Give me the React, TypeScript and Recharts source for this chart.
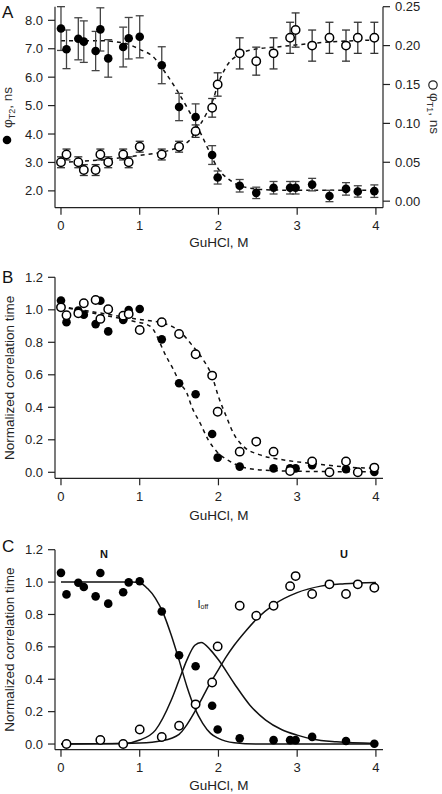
import { ComposedChart, Line, Scatter, ErrorBar, XAxis, YAxis } from "recharts";

const FONT = "'Liberation Sans', Arial, Helvetica, sans-serif";

// GuHCl concentrations (M) shared by every panel
const conc = [0, 0.07, 0.22, 0.29, 0.44, 0.5, 0.6, 0.79, 0.86, 1.0, 1.28, 1.5, 1.71, 1.92, 1.99, 2.27, 2.48, 2.7, 2.91, 2.98, 3.19, 3.41, 3.62, 3.77, 3.98];

// panel A
const phiT2 = [7.71, 6.98, 7.35, 7.25, 6.92, 7.68, 6.66, 7.06, 7.37, 7.42, 6.42, 4.95, 4.6, 3.26, 2.47, 2.18, 1.93, 2.11, 2.11, 2.11, 2.22, 1.82, 2.07, 1.98, 1.99];
const phiT2Err = [0.77, 0.68, 0.74, 0.73, 0.69, 0.76, 0.66, 0.7, 0.73, 0.74, 0.65, 0.48, 0.46, 0.33, 0.23, 0.22, 0.2, 0.22, 0.22, 0.22, 0.22, 0.2, 0.22, 0.2, 0.22];
const phiT1 = [0.05, 0.06, 0.05, 0.04, 0.04, 0.06, 0.05, 0.06, 0.05, 0.07, 0.06, 0.07, 0.09, 0.12, 0.15, 0.19, 0.18, 0.19, 0.21, 0.22, 0.2, 0.21, 0.2, 0.21, 0.21];
const phiT1Err = [0.007, 0.007, 0.007, 0.007, 0.007, 0.007, 0.007, 0.007, 0.007, 0.007, 0.007, 0.007, 0.008, 0.012, 0.015, 0.02, 0.018, 0.02, 0.02, 0.022, 0.02, 0.02, 0.02, 0.02, 0.02];

const fitT2X = [0, 0.5, 0.8, 1.0, 1.17, 1.34, 1.47, 1.64, 1.77, 1.89, 1.98, 2.15, 2.32, 2.6, 3.0, 4.0];
const fitT2Y = [7.28, 7.28, 7.2, 6.98, 6.72, 6.1, 5.55, 4.74, 4.05, 3.35, 2.85, 2.37, 2.14, 2.04, 2.02, 2.02];
const fitT1X = [0, 0.5, 1.0, 1.28, 1.5, 1.64, 1.72, 1.85, 1.93, 1.99, 2.1, 2.25, 2.4, 2.82, 3.46, 3.96];
const fitT1Y = [0.05, 0.053, 0.059, 0.063, 0.07, 0.079, 0.091, 0.113, 0.13, 0.149, 0.173, 0.188, 0.194, 0.199, 0.205, 0.207];

// panel B / C
const normT2 = [1.057, 0.924, 0.996, 0.97, 0.912, 1.056, 0.867, 0.937, 0.998, 1.005, 0.818, 0.548, 0.48, 0.236, 0.09, 0.035, null, 0.024, 0.024, 0.024, 0.044, null, 0.019, null, 0.002];
const normT1 = [1.015, 0.966, 0.978, 1.04, 1.06, 0.944, 1.003, 0.964, 0.974, 0.876, 0.923, 0.851, 0.726, 0.595, 0.373, 0.127, 0.189, 0.127, 0.008, null, 0.066, 0, 0.066, 0, 0.029];
const fracU = [null, 0, null, null, null, 0.025, null, 0, null, 0.09, 0.043, 0.113, 0.245, 0.38, 0.603, 0.854, 0.792, 0.854, 0.975, 1.037, 0.926, 0.986, 0.926, 0.986, 0.965];

const fitBT2X = [0, 0.5, 0.92, 1.13, 1.34, 1.43, 1.51, 1.6, 1.66, 1.77, 1.87, 1.98, 2.15, 2.36, 2.7, 3.2, 4.0];
const fitBT2Y = [1.02, 0.97, 0.93, 0.9, 0.71, 0.63, 0.55, 0.486, 0.404, 0.3, 0.2, 0.127, 0.066, 0.025, 0.01, 0.005, 0.003];
const fitBT1X = [0, 0.5, 1.0, 1.28, 1.51, 1.68, 1.81, 1.92, 2.0, 2.1, 2.19, 2.32, 2.53, 2.83, 3.25, 3.67, 4.0];
const fitBT1Y = [1.02, 0.98, 0.94, 0.92, 0.866, 0.773, 0.69, 0.59, 0.466, 0.343, 0.24, 0.158, 0.107, 0.076, 0.051, 0.031, 0.025];

const fitNX = [0, 0.9, 1.0, 1.1, 1.2, 1.3, 1.4, 1.5, 1.6, 1.7, 1.8, 1.9, 2.0, 2.2, 2.5, 4.0];
const fitNY = [1.0, 1.0, 0.996, 0.96, 0.9, 0.807, 0.673, 0.518, 0.354, 0.22, 0.128, 0.066, 0.035, 0.008, 0.0, 0.0];
const fitUX = [0, 0.5, 1.0, 1.28, 1.5, 1.6, 1.7, 1.8, 1.9, 2.0, 2.1, 2.2, 2.35, 2.5, 2.7, 3.0, 3.3, 3.6, 4.0];
const fitUY = [0, 0.001, 0.006, 0.02, 0.06, 0.12, 0.2, 0.29, 0.38, 0.46, 0.54, 0.61, 0.7, 0.78, 0.86, 0.935, 0.975, 0.99, 0.998];
const fitIX = [0, 0.8, 1.0, 1.2, 1.4, 1.5, 1.6, 1.7, 1.78, 1.9, 2.0, 2.2, 2.4, 2.6, 2.8, 3.0, 3.2, 3.5, 4.0];
const fitIY = [0, 0.003, 0.025, 0.086, 0.27, 0.395, 0.52, 0.61, 0.627, 0.58, 0.52, 0.374, 0.24, 0.148, 0.09, 0.055, 0.03, 0.014, 0.004];

const xTicks = [0, 1, 2, 3, 4];
const ticksT2 = [2, 3, 4, 5, 6, 7, 8];
const ticksT1 = [0, 0.05, 0.1, 0.15, 0.2, 0.25];
const ticksNorm = [0, 0.2, 0.4, 0.6, 0.8, 1.0, 1.2];

const pts = (xs: number[], ys: (number | null)[], es?: number[]) =>
  xs
    .map((x, i) => ({ x, y: ys[i], e: es ? es[i] : 0 }))
    .filter((p) => p.y !== null);

const filledDot = (p: any) => <circle cx={p.cx} cy={p.cy} r={4.3} fill="#000" />;
const openDot = (p: any) => <circle cx={p.cx} cy={p.cy} r={4.2} fill="#fff" stroke="#000" strokeWidth={1.5} />;

const tickStyle = { fill: "#222", fontSize: 13, fontFamily: FONT };
const axisStyle = { stroke: "#222", strokeWidth: 1.2 };

const xAxis = (h: number, off: number) => (
  <XAxis
    dataKey="x"
    type="number"
    height={h}
    domain={[-0.076, 4.09]}
    ticks={xTicks}
    interval={0}
    allowDataOverflow
    tick={tickStyle}
    tickSize={7}
    tickMargin={6}
    axisLine={axisStyle}
    tickLine={axisStyle}
    label={{ value: "GuHCl, M", position: "insideTop", offset: off, fill: "#222", fontSize: 13.5, fontFamily: FONT }}
  />
);

const fitLine = (x: number[], y: number[], axis: string, dashed: boolean) => (
  <Line
    data={pts(x, y)}
    dataKey="y"
    yAxisId={axis}
    type="monotone"
    stroke="#111"
    strokeWidth={1.5}
    strokeDasharray={dashed ? "4 4" : undefined}
    dot={false}
    activeDot={false}
    isAnimationActive={false}
  />
);

const normAxis = (bottom: number) => (
  <YAxis
    yAxisId="l"
    dataKey="y"
    type="number"
    width={55}
    domain={[bottom, 1.2]}
    ticks={ticksNorm}
    interval={0}
    allowDataOverflow
    tickFormatter={(v: number) => v.toFixed(1)}
    tick={tickStyle}
    tickSize={7}
    tickMargin={5}
    axisLine={axisStyle}
    tickLine={axisStyle}
  />
);

export default function App() {
  return (
    <div style={{ position: "absolute", left: 0, top: 0, width: 442, height: 794, background: "#fff", fontFamily: FONT }}>
      <div style={{ position: "absolute", left: 0, top: 0 }}>
        <ComposedChart width={442} height={258} margin={{ top: 6.7, right: 0, bottom: 0, left: 0 }}>
          {xAxis(50.3, 29.5)}
          <YAxis
            yAxisId="l"
            dataKey="y"
            type="number"
            width={55}
            domain={[1.408, 8.479]}
            ticks={ticksT2}
            interval={0}
            allowDataOverflow
            tickFormatter={(v: number) => v.toFixed(1)}
            tick={tickStyle}
            tickSize={7}
            tickMargin={5}
            axisLine={axisStyle}
            tickLine={axisStyle}
          />
          <YAxis
            yAxisId="r"
            orientation="right"
            dataKey="y"
            type="number"
            width={59}
            domain={[-0.0084, 0.25]}
            ticks={ticksT1}
            interval={0}
            allowDataOverflow
            tickFormatter={(v: number) => v.toFixed(2)}
            tick={tickStyle}
            tickSize={7}
            tickMargin={5}
            axisLine={axisStyle}
            tickLine={axisStyle}
          />
          {fitLine(fitT2X, fitT2Y, "l", true)}
          {fitLine(fitT1X, fitT1Y, "r", true)}
          <Scatter data={pts(conc, phiT2, phiT2Err)} dataKey="y" yAxisId="l" shape={filledDot} isAnimationActive={false}>
            <ErrorBar dataKey="e" direction="y" width={4} stroke="#444" strokeWidth={1.3} />
          </Scatter>
          <Scatter data={pts(conc, phiT1, phiT1Err)} dataKey="y" yAxisId="r" shape={openDot} isAnimationActive={false}>
            <ErrorBar dataKey="e" direction="y" width={4} stroke="#333" strokeWidth={1.3} />
          </Scatter>
        </ComposedChart>
      </div>

      <div style={{ position: "absolute", left: 0, top: 260 }}>
        <ComposedChart width={442} height={262} margin={{ top: 17.3, right: 59, bottom: 0, left: 0 }}>
          {xAxis(43.7, 32)}
          {normAxis(-0.037)}
          {fitLine(fitBT2X, fitBT2Y, "l", true)}
          {fitLine(fitBT1X, fitBT1Y, "l", true)}
          <Scatter data={pts(conc, normT2)} dataKey="y" yAxisId="l" shape={filledDot} isAnimationActive={false} />
          <Scatter data={pts(conc, normT1)} dataKey="y" yAxisId="l" shape={openDot} isAnimationActive={false} />
        </ComposedChart>
      </div>

      <div style={{ position: "absolute", left: 0, top: 520 }}>
        <ComposedChart width={442} height={274} margin={{ top: 29.7, right: 59, bottom: 0, left: 0 }}>
          {xAxis(44.3, 30.3)}
          {normAxis(-0.035)}
          {fitLine(fitNX, fitNY, "l", false)}
          {fitLine(fitIX, fitIY, "l", false)}
          {fitLine(fitUX, fitUY, "l", false)}
          <Scatter data={pts(conc, normT2)} dataKey="y" yAxisId="l" shape={filledDot} isAnimationActive={false} />
          <Scatter data={pts(conc, fracU)} dataKey="y" yAxisId="l" shape={openDot} isAnimationActive={false} />
        </ComposedChart>
      </div>

      <svg width={442} height={794} style={{ position: "absolute", left: 0, top: 0, pointerEvents: "none" }} fontFamily={FONT}>
        <text x={2} y={18} fontSize={17} fill="#111">A</text>
        <text x={2} y={283} fontSize={17} fill="#111">B</text>
        <text x={2} y={552} fontSize={17} fill="#111">C</text>

        <circle cx={7} cy={140} r={4.3} fill="#000" />
        <text x={11.7} y={128} fontSize={13.5} fill="#333" transform="rotate(-90 11.7 128)">
          φ<tspan fontSize={9} dy={3}>T2</tspan>
          <tspan dy={-3}>, ns</tspan>
        </text>

        <circle cx={433} cy={85} r={4.2} fill="#fff" stroke="#222" strokeWidth={1.2} />
        <text x={430} y={93} fontSize={13.5} fill="#333" transform="rotate(90 430 93)">
          φ<tspan fontSize={9} dy={3}>T1</tspan>
          <tspan dy={-3}>, ns</tspan>
        </text>

        <text x={14} y={377.8} fontSize={13.5} fill="#222" textAnchor="middle" transform="rotate(-90 14 377.8)">
          Normalized correlation time
        </text>
        <text x={14} y={649.7} fontSize={13.5} fill="#222" textAnchor="middle" transform="rotate(-90 14 649.7)">
          Normalized correlation time
        </text>

        <text x={104} y={558} fontSize={11} fontWeight="bold" fill="#111" textAnchor="middle">N</text>
        <text x={344} y={558} fontSize={11} fontWeight="bold" fill="#111" textAnchor="middle">U</text>
        <text x={197.5} y={608.3} fontSize={11} fill="#111">
          I<tspan fontSize={7} dy={1}>off</tspan>
        </text>
      </svg>
    </div>
  );
}
